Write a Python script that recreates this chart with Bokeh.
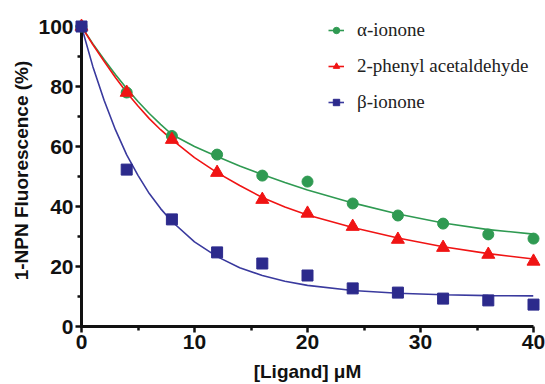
from bokeh.plotting import figure
from bokeh.models import Range1d, FixedTicker, Legend, LegendItem
from bokeh.embed import file_html
from bokeh.resources import INLINE

# measured points
conc = [0, 4, 8, 12, 16, 20, 24, 28, 32, 36, 40]
alpha_ionone = [100, 78, 63.5, 57.3, 50.3, 48.3, 41, 37, 34.3, 30.7, 29.3]
phenyl_acet = [100, 78, 62.3, 51.3, 42.3, 37.7, 33.3, 29, 26.3, 24, 21.7]
beta_ionone = [100, 52.3, 35.7, 24.7, 21, 17, 12.7, 11.3, 9.3, 8.7, 7.3]

# fitted curves
fit_x = [0, 1, 2, 3, 4, 5, 6, 7, 8, 10, 12, 14, 16, 18, 20, 24, 28, 32, 36, 40]
alpha_fit = [100, 94.3, 89, 84, 79.3, 75, 71, 67.4, 64, 60, 56.7, 53.5, 50.7, 48, 45.5, 41.2, 37.5, 34.5, 32.3, 30.8]
phenyl_fit = [100, 94, 88.4, 83, 78, 73.5, 69.3, 65.6, 62.3, 56.3, 51.3, 47, 43, 39.8, 37.2, 33, 29.5, 26.6, 24.3, 22.5]
beta_fit = [100, 86.7, 75.4, 65.6, 57.2, 50.4, 44.3, 39.3, 35, 28.2, 23.3, 19.6, 17, 15.1, 13.7, 12, 11.1, 10.6, 10.3, 10.2]

x_ticks = [0, 10, 20, 30, 40]
x_minor = [5, 15, 25, 35]
y_ticks = [0, 20, 40, 60, 80, 100]
y_minor = [10, 30, 50, 70, 90]

labels = ["α-ionone", "2-phenyl acetaldehyde", "β-ionone"]

GREEN = "#2f9a52"
RED = "#f01414"
BLUE = "#2c2a8c"
BLUE_LINE = "#3a3a9e"
AXIS = "#111111"

# y range has a little headroom above 100 so the legend is not clipped
p = figure(width=545, height=384, output_backend="svg", toolbar_location=None,
           x_range=Range1d(0, 40), y_range=Range1d(0, 104),
           min_border_left=81, min_border_right=12, min_border_top=14, min_border_bottom=58)
p.outline_line_color = None
p.xgrid.visible = False
p.ygrid.visible = False

lg = p.line(fit_x, alpha_fit, line_color=GREEN, line_width=1.6)
lr = p.line(fit_x, phenyl_fit, line_color=RED, line_width=1.6)
lb = p.line(fit_x, beta_fit, line_color=BLUE_LINE, line_width=1.6)

# y-axis line drawn from the tick extent (0..100)
yax = p.segment(x0=[x_ticks[0]], y0=[y_ticks[0]], x1=[x_ticks[0]], y1=[y_ticks[-1]],
                line_color=AXIS, line_width=3, line_cap="square")
yax.level = "overlay"

sg = p.scatter(conc, alpha_ionone, marker="circle", size=11, fill_color=GREEN, line_color=GREEN)
sr = p.scatter(conc, phenyl_acet, marker="triangle", size=13, fill_color=RED, line_color=RED)
sb = p.scatter(conc, beta_ionone, marker="square", size=11, fill_color=BLUE, line_color=BLUE)
for r in (sg, sr, sb):
    r.level = "overlay"

legend = Legend(items=[LegendItem(label=labels[0], renderers=[lg, sg]),
                       LegendItem(label=labels[1], renderers=[lr, sr]),
                       LegendItem(label=labels[2], renderers=[lb, sb])],
                location=(247, 213), orientation="vertical",
                label_text_font="Liberation Serif", label_text_font_size="19px",
                label_text_color="#222222",
                glyph_width=16, glyph_height=20, label_height=20, label_standoff=13,
                spacing=14, padding=0, margin=0,
                background_fill_alpha=0, border_line_alpha=0)
p.add_layout(legend)

for ax in (p.xaxis[0], p.yaxis[0]):
    ax.axis_line_width = 3
    ax.axis_line_color = AXIS
    ax.major_tick_line_width = 2.5
    ax.major_tick_line_color = AXIS
    ax.minor_tick_line_width = 2.5
    ax.minor_tick_line_color = AXIS
    ax.major_tick_in = 0
    ax.major_tick_out = 6
    ax.minor_tick_in = 0
    ax.minor_tick_out = 4
    ax.major_label_text_font = "Liberation Sans"
    ax.major_label_text_font_style = "bold"
    ax.major_label_text_font_size = "21px"
    ax.major_label_text_color = AXIS
    ax.axis_label_text_font = "Liberation Sans"
    ax.axis_label_text_font_style = "bold"
    ax.axis_label_text_font_size = "19px"
    ax.axis_label_text_color = AXIS

p.yaxis[0].axis_line_color = None

p.xaxis[0].ticker = FixedTicker(ticks=x_ticks, minor_ticks=x_minor)
p.yaxis[0].ticker = FixedTicker(ticks=y_ticks, minor_ticks=y_minor)
p.xaxis[0].axis_label = "[Ligand] μM"
p.yaxis[0].axis_label = "1-NPN Fluorescence (%)"
p.xaxis[0].major_label_standoff = 2
p.yaxis[0].major_label_standoff = 2
p.xaxis[0].axis_label_standoff = 9
p.yaxis[0].axis_label_standoff = 3

open("out.html", "w").write(file_html(p, INLINE))
